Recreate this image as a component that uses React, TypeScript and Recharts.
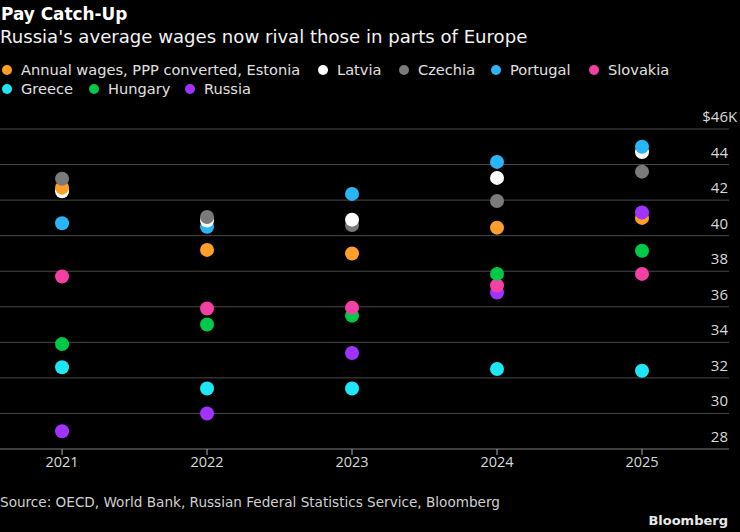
// @ts-nocheck
import { ScatterChart, Scatter, XAxis, YAxis, CartesianGrid, Cell } from "recharts";

const years = [2021, 2022, 2023, 2024, 2025];
const yTicks = [28, 30, 32, 34, 36, 38, 40, 42, 44, 46];

// annual wages, PPP converted, $K
const estonia = [42.7, 39.2, 39.0, 40.45, 41.0];
const latvia = [42.5, 40.85, 40.9, 43.25, 44.7];
const czechia = [43.2, 41.05, 40.6, 41.95, 43.6];
const portugal = [40.7, 40.5, 42.35, 44.15, 45.0];
const slovakia = [37.7, 35.9, 35.95, 37.2, 37.85];
const greece = [32.6, 31.4, 31.4, 32.5, 32.4];
const hungary = [33.9, 35.0, 35.5, 37.85, 39.15];
const russia = [29.0, 30.0, 33.4, 36.8, 41.3];

const series = [
  { name: "Estonia", label: "Annual wages, PPP converted, Estonia", values: estonia },
  { name: "Latvia", label: "Latvia", values: latvia },
  { name: "Czechia", label: "Czechia", values: czechia },
  { name: "Portugal", label: "Portugal", values: portugal },
  { name: "Slovakia", label: "Slovakia", values: slovakia },
  { name: "Greece", label: "Greece", values: greece },
  { name: "Hungary", label: "Hungary", values: hungary },
  { name: "Russia", label: "Russia", values: russia },
];

const COLORS = {
  Estonia: "#ff9f2a",
  Latvia: "#ffffff",
  Czechia: "#7a7a7a",
  Portugal: "#29b6f6",
  Slovakia: "#f43fa5",
  Greece: "#1de6f5",
  Hungary: "#00c94a",
  Russia: "#a033ff",
};

const HEAD_FONT = "'DejaVu Sans', sans-serif";

// legend placement (two rows like the original), left x / top y
const LEGEND_POS = {
  Estonia: [2, 62],
  Latvia: [318, 62],
  Czechia: [399, 62],
  Portugal: [491, 62],
  Slovakia: [589, 62],
  Greece: [2, 81],
  Hungary: [89, 81],
  Russia: [185, 81],
};

// one flat table, higher values drawn on top
const points = series
  .flatMap(s => s.values.map((v, i) => ({ x: years[i], y: v, name: s.name })))
  .sort((a, b) => a.y - b.y);

const YTick = ({ y, payload }) => {
  const top = payload.value === 46;
  return (
    <g>
      <text x={728} y={y - 7} textAnchor="end" fill="#d9d9d9" fontSize={15} fontFamily="Open Sans">
        {top ? "$46" : payload.value}
      </text>
      {top && (
        <text x={728} y={y - 7} textAnchor="start" fill="#d9d9d9" fontSize={15} fontFamily="Open Sans">K</text>
      )}
    </g>
  );
};

export default function App() {
  return (
    <div style={{ position: "absolute", left: 0, top: 0, width: 740, height: 532, background: "#000", fontFamily: HEAD_FONT, color: "#fff", overflow: "hidden" }}>
      <ScatterChart width={740} height={532} margin={{ top: 129, right: 10, bottom: 53, left: 0 }}>
        <CartesianGrid vertical={false} stroke="#4a4a4a" />
        <XAxis
          type="number"
          dataKey="x"
          domain={[2020.572, 2025.6]}
          ticks={years}
          allowDataOverflow
          axisLine={{ stroke: "#5a5a5a" }}
          tickLine={{ stroke: "#aaa" }}
          tickSize={6}
          tick={{ fill: "#d9d9d9", fontSize: 14.5, fontFamily: "Open Sans" }}
        />
        <YAxis
          type="number"
          dataKey="y"
          orientation="right"
          width={1}
          domain={[28, 46]}
          ticks={yTicks}
          interval={0}
          axisLine={false}
          tickLine={false}
          tick={<YTick />}
        />
        <Scatter
          data={points}
          isAnimationActive={false}
          shape={(p) => <circle cx={p.cx} cy={p.cy} r={7} fill={COLORS[p.payload.name]} />}
        >
          {points.map((p, i) => (
            <Cell key={i} fill={COLORS[p.name]} />
          ))}
        </Scatter>
      </ScatterChart>

      <div style={{ position: "absolute", left: 1, top: 3, fontSize: 16.9, fontWeight: 700, lineHeight: "22px" }}>Pay Catch-Up</div>
      <div style={{ position: "absolute", left: 0, top: 27, fontSize: 18.1, lineHeight: "19px", color: "#f2f2f2" }}>
        Russia's average wages now rival those in parts of Europe
      </div>

      {series.map(s => (
        <div key={s.name} style={{ position: "absolute", left: LEGEND_POS[s.name][0], top: LEGEND_POS[s.name][1], height: 16, display: "flex", alignItems: "center", fontSize: 14.6, lineHeight: "16px", color: "#e0e0e0", whiteSpace: "nowrap" }}>
          <span style={{ width: 10, height: 10, borderRadius: 5, background: COLORS[s.name], marginRight: 9, flexShrink: 0 }} />
          {s.label}
        </div>
      ))}

      <div style={{ position: "absolute", left: 0, top: 494, fontSize: 13.6, lineHeight: "16px", color: "#d0d0d0" }}>
        Source: OECD, World Bank, Russian Federal Statistics Service, Bloomberg
      </div>
      <div style={{ position: "absolute", right: 12, top: 513, fontSize: 13, fontWeight: 700, lineHeight: "16px", color: "#e8e8e8" }}>
        Bloomberg
      </div>
    </div>
  );
}
